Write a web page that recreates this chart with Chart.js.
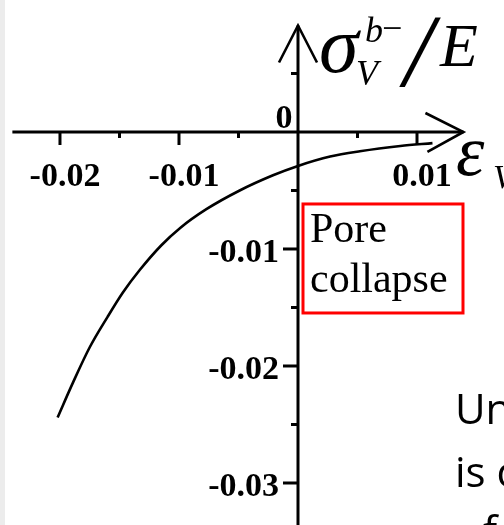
<!DOCTYPE html>
<html>
<head>
<meta charset="utf-8">
<script src="https://cdn.jsdelivr.net/npm/chart.js@4.4.1/dist/chart.umd.min.js"></script>
<style>
  html, body { margin: 0; padding: 0; background: #fff; overflow: hidden; }
  canvas { display: block; }
</style>
</head>
<body>
<canvas id="c" width="504" height="525"></canvas>
<script>
// volumetric strain vs normalised stress, loading branch
const strainV = [-0.0202, -0.0189, -0.0175, -0.0160, -0.0147, -0.0133, -0.0115, -0.0099,
                 -0.0077, -0.0049, -0.0021, 0, 0.0027, 0.0052, 0.0086, 0.0113];
const stressV = [-0.0244, -0.0214, -0.0184, -0.0158, -0.0137, -0.0118, -0.0097, -0.0082,
                 -0.0066, -0.0050, -0.0037, -0.0029, -0.0021, -0.00165, -0.0012, -0.00095];

const xTicks      = [-0.02, -0.015, -0.01, -0.005, 0.005, 0.01];
const xTickLabels = ['-0.02', '', '-0.01', '', '', '0.01'];
const yTicks      = [0.005, -0.005, -0.01, -0.015, -0.02, -0.025, -0.03];
const yTickLabels = ['', '', '-0.01', '', '-0.02', '', '-0.03'];
const zeroLabel   = '0';

const boxLines  = ['Pore', 'collapse'];
const sideLines = ['Un', 'is c', 'f'];

const X_AXIS = [-0.0240, 0.0139];
const Y_AXIS = [-0.0340, 0.0091];

const SERIF = '"Liberation Serif", "Times New Roman", serif';

function seg(ctx, x1, y1, x2, y2) {
  ctx.beginPath(); ctx.moveTo(x1, y1); ctx.lineTo(x2, y2); ctx.stroke();
}

// axes crossing at the origin, with open arrow heads
const originAxes = {
  id: 'originAxes',
  beforeDatasetsDraw(chart) {
    const { ctx, scales: { x, y } } = chart;
    const x0 = x.getPixelForValue(0), y0 = y.getPixelForValue(0);
    ctx.save();
    ctx.fillStyle = '#ececec';
    ctx.fillRect(0, 0, 5, chart.height);

    ctx.strokeStyle = '#000';
    ctx.lineWidth = 3;
    const xs = x.getPixelForValue(X_AXIS[0]), xe = x.getPixelForValue(X_AXIS[1]);
    const yt = y.getPixelForValue(Y_AXIS[1]), yb = y.getPixelForValue(Y_AXIS[0]);
    seg(ctx, xs, y0, xe, y0);
    seg(ctx, x0, yt, x0, yb);
    ctx.lineWidth = 2.6;
    ctx.beginPath();
    ctx.moveTo(xe - 38, y0 - 19); ctx.lineTo(xe, y0); ctx.lineTo(xe - 36, y0 + 20);
    ctx.stroke();
    ctx.beginPath();
    ctx.moveTo(x0 - 19, yt + 37); ctx.lineTo(x0, yt); ctx.lineTo(x0 + 19, yt + 37);
    ctx.stroke();

    ctx.lineWidth = 3;
    ctx.fillStyle = '#000';
    ctx.font = 'bold 34px ' + SERIF;
    ctx.textAlign = 'center';
    xTicks.forEach((v, i) => {
      const px = x.getPixelForValue(v);
      const major = xTickLabels[i] !== '';
      seg(ctx, px, y0, px, y0 + (major ? 13 : 6));
      if (xTickLabels[i]) ctx.fillText(xTickLabels[i], px + 5, y0 + 54);
    });
    ctx.textAlign = 'right';
    yTicks.forEach((v, i) => {
      const py = y.getPixelForValue(v);
      const major = yTickLabels[i] !== '';
      seg(ctx, x0, py, x0 - (major ? 15 : 7), py);
      if (yTickLabels[i]) ctx.fillText(yTickLabels[i], x0 - 19, py + 13);
    });
    ctx.textAlign = 'center';
    ctx.fillText(zeroLabel, x0 - 14, y0 - 4);
    ctx.restore();
  },
  afterDatasetsDraw(chart) {
    const { ctx, scales: { x, y } } = chart;
    const x0 = x.getPixelForValue(0), y0 = y.getPixelForValue(0);
    ctx.save();
    ctx.fillStyle = '#000';
    ctx.textAlign = 'left';
    ctx.textBaseline = 'alphabetic';

    // vertical axis title: sigma_V^{b-} / E
    ctx.font = 'italic 80px ' + SERIF;
    ctx.fillText('σ', x0 + 21, y0 - 60);
    ctx.font = 'italic 36px ' + SERIF;
    ctx.fillText('b', x0 + 67, y0 - 90);
    ctx.font = '36px ' + SERIF;
    ctx.fillText('−', x0 + 84, y0 - 92);
    ctx.font = 'italic 36px ' + SERIF;
    ctx.fillText('V', x0 + 58, y0 - 47);
    ctx.font = 'italic 104px ' + SERIF;
    ctx.fillText('/', x0 + 106, y0 - 46);
    ctx.font = 'italic 62px ' + SERIF;
    ctx.fillText('E', x0 + 142, y0 - 66);

    // horizontal axis title: epsilon_V
    ctx.font = 'italic 72px ' + SERIF;
    ctx.fillText('ε', x0 + 158, y0 + 43);
    ctx.font = 'italic 34px ' + SERIF;
    ctx.fillText('V', x0 + 195, y0 + 56);

    // boxed annotation
    ctx.strokeStyle = '#ff0000';
    ctx.lineWidth = 3;
    ctx.strokeRect(x0 + 5, y0 + 72, 160, 109);
    ctx.font = '42px ' + SERIF;
    boxLines.forEach((t, i) => ctx.fillText(t, x0 + 12, y0 + 110 + i * 50));

    // running slide text at the right edge
    ctx.font = '42px "Open Sans", sans-serif';
    ctx.fillText(sideLines[0], 455, 424);
    ctx.fillText(sideLines[1], 455, 487);
    ctx.fillText(sideLines[2], 483, 546);
    ctx.restore();
  }
};

new Chart(document.getElementById('c'), {
  type: 'scatter',
  data: {
    datasets: [{
      data: strainV.map((v, i) => ({ x: v, y: stressV[i] })),
      showLine: true,
      borderColor: '#000',
      borderWidth: 2.6,
      pointRadius: 0,
      cubicInterpolationMode: 'monotone'
    }]
  },
  options: {
    responsive: false,
    animation: false,
    layout: { padding: 0 },
    plugins: { legend: { display: false }, tooltip: { enabled: false } },
    scales: {
      x: { type: 'linear', display: false, min: -0.02504, max: 0.01731 },
      y: { type: 'linear', display: false, min: -0.03359, max: 0.01128 }
    }
  },
  plugins: [originAxes]
});
</script>
</body>
</html>
